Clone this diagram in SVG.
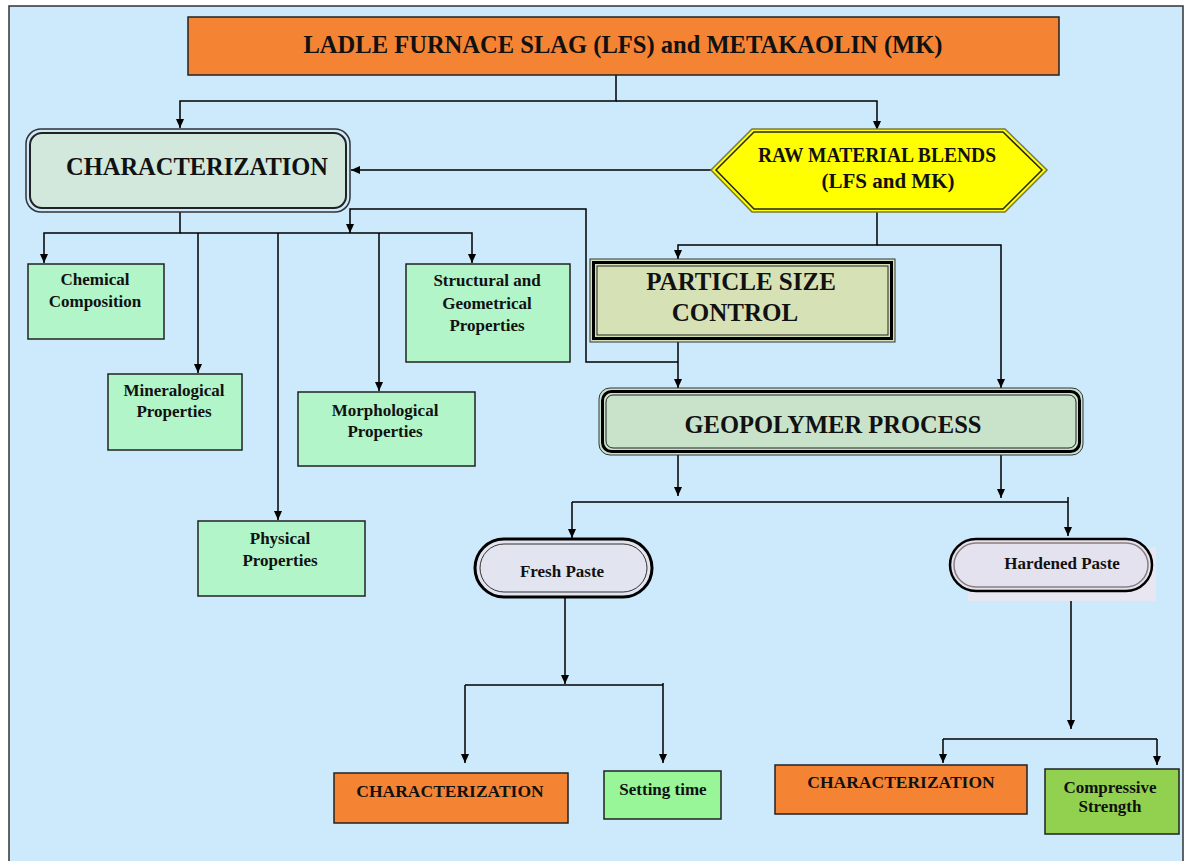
<svg xmlns="http://www.w3.org/2000/svg" width="1186" height="861" viewBox="0 0 1186 861">
<defs>
<marker id="ah" markerUnits="userSpaceOnUse" markerWidth="10" markerHeight="10" refX="9" refY="5" orient="auto"><path d="M0,1 L9,5 L0,9 Z" fill="#000"/></marker>
</defs>
<style>
.t{font-family:"Liberation Serif","Times New Roman",serif;font-weight:bold;fill:#111;text-anchor:middle}
.s{font-size:17px}
.c{fill:none;stroke:#000;stroke-width:1.5}
.a{marker-end:url(#ah)}
.g{fill:#b2f5c8;stroke:#222;stroke-width:1.5}
.o{fill:#f48434;stroke:#222;stroke-width:1.5}
</style>
<rect x="0" y="0" width="1186" height="861" fill="#ffffff"/>
<rect x="9" y="6" width="1174" height="860" fill="#cceafc" stroke="#333" stroke-width="1.5"/>

<g id="connectors">
<path class="c a" d="M616 75 V101 H180 V128"/>
<path class="c a" d="M616 101 H877 V130"/>
<path class="c a" d="M712 170 H351"/>
<path class="c a" d="M180 212 V233 H44 V263"/>
<path class="c a" d="M180 233 H472 V263"/>
<path class="c a" d="M198 233 V373"/>
<path class="c a" d="M278 233 V520"/>
<path class="c a" d="M379 233 V391"/>
<path class="c a" d="M678 362 H586 V209 H350 V233"/>
<path class="c a" d="M877 211 V245 H678 V259"/>
<path class="c a" d="M877 245 H1001 V388"/>
<path class="c a" d="M678 342 V388"/>
<path class="c a" d="M678 455 V496"/>
<path class="c a" d="M1001 455 V498"/>
<path class="c" d="M572 502 H1068"/>
<path class="c a" d="M572 502 V538"/>
<path class="c a" d="M1068 497 V536"/>
<path class="c a" d="M565 598 V684"/>
<path class="c" d="M465 685 H663"/>
<path class="c a" d="M465 685 V763"/>
<path class="c a" d="M663 683 V763"/>
<path class="c a" d="M1071 598 V729"/>
<path class="c" d="M943 739 H1157"/>
<path class="c a" d="M943 739 V763"/>
<path class="c a" d="M1157 739 V765"/>
</g>

<g id="n-top">
<rect x="188" y="17" width="871" height="58" fill="#f48434" stroke="#222" stroke-width="1.5"/>
<text class="t" x="623" y="53" font-size="25" textLength="639" lengthAdjust="spacingAndGlyphs">LADLE FURNACE SLAG (LFS) and METAKAOLIN (MK)</text>
</g>

<g id="n-char">
<rect x="26" y="129" width="324" height="83" rx="15" fill="none" stroke="#333" stroke-width="1.5"/>
<rect x="30" y="133" width="316" height="75" rx="12" fill="#d2e8dc" stroke="#222" stroke-width="2"/>
<text class="t" x="197" y="175" font-size="25" textLength="262" lengthAdjust="spacingAndGlyphs">CHARACTERIZATION</text>
</g>

<g id="n-raw">
<polygon points="711,170 752,129 1005,129 1047,170 1005,212 752,212" fill="#ffff00" stroke="#7a7a3a" stroke-width="1.5"/>
<polygon points="716,170 754,132 1003,132 1042,170 1003,209 754,209" fill="#ffff00" stroke="#222" stroke-width="1.5"/>
<text class="t" x="877" y="162" font-size="20" textLength="238" lengthAdjust="spacingAndGlyphs">RAW MATERIAL BLENDS</text>
<text class="t" x="888" y="188" font-size="20" textLength="133" lengthAdjust="spacingAndGlyphs">(LFS and MK)</text>
</g>

<g id="n-chem">
<rect class="g" x="28" y="264" width="136" height="75"/>
<text class="t s" x="95" y="285">Chemical</text>
<text class="t s" x="95" y="307">Composition</text>
</g>
<g id="n-mine">
<rect class="g" x="108" y="374" width="134" height="76"/>
<text class="t s" x="174" y="396">Mineralogical</text>
<text class="t s" x="174" y="417">Properties</text>
</g>
<g id="n-phys">
<rect class="g" x="198" y="521" width="167" height="75"/>
<text class="t s" x="280" y="544">Physical</text>
<text class="t s" x="280" y="566">Properties</text>
</g>
<g id="n-morph">
<rect class="g" x="298" y="392" width="177" height="74"/>
<text class="t s" x="385" y="416">Morphological</text>
<text class="t s" x="385" y="437">Properties</text>
</g>
<g id="n-struct">
<rect class="g" x="406" y="264" width="164" height="98"/>
<text class="t s" x="487" y="286">Structural and</text>
<text class="t s" x="487" y="309">Geometrical</text>
<text class="t s" x="487" y="331">Properties</text>
</g>

<g id="n-particle">
<rect x="590" y="259" width="305" height="83" fill="#d6e2b6" stroke="#333" stroke-width="1"/>
<rect x="593.5" y="262.5" width="298" height="76" fill="none" stroke="#000" stroke-width="3"/>
<rect x="597" y="266" width="291" height="69" fill="none" stroke="#222" stroke-width="1"/>
<text class="t" x="741" y="290" font-size="25">PARTICLE SIZE</text>
<text class="t" x="735" y="321" font-size="25">CONTROL</text>
</g>

<g id="n-geo">
<rect x="599" y="388" width="484" height="67" rx="11" fill="#c9e3cb" stroke="#333" stroke-width="1"/>
<rect x="602.5" y="391.5" width="477" height="60" rx="9" fill="none" stroke="#000" stroke-width="3"/>
<rect x="606" y="395" width="470" height="53" rx="7" fill="none" stroke="#222" stroke-width="1"/>
<text class="t" x="833" y="433" font-size="25" textLength="297" lengthAdjust="spacingAndGlyphs">GEOPOLYMER PROCESS</text>
</g>

<g id="n-fresh">
<rect x="475" y="539" width="177" height="58" rx="29" fill="#e2e4f0" stroke="#000" stroke-width="3"/>
<rect x="480" y="544" width="167" height="48" rx="24" fill="none" stroke="#333" stroke-width="1"/>
<text class="t" x="562" y="577" font-size="17">Fresh Paste</text>
</g>

<g id="n-hard">
<rect x="968" y="547" width="188" height="54" fill="#e8e6f0"/>
<rect x="950" y="539" width="202" height="52" rx="26" fill="#e4e2ee" stroke="#000" stroke-width="2.5"/>
<rect x="954" y="543" width="194" height="44" rx="22" fill="none" stroke="#8a7f80" stroke-width="1.5"/>
<text class="t" x="1062" y="569" font-size="17">Hardened Paste</text>
</g>

<g id="n-char2">
<rect class="o" x="334" y="773" width="234" height="50"/>
<text class="t" x="450" y="797" font-size="17.5">CHARACTERIZATION</text>
</g>
<g id="n-setting">
<rect x="604" y="771" width="117" height="48" fill="#98f598" stroke="#222" stroke-width="1.5"/>
<text class="t s" x="663" y="795">Setting time</text>
</g>
<g id="n-char3">
<rect class="o" x="775" y="765" width="252" height="49"/>
<text class="t" x="901" y="788" font-size="17.5">CHARACTERIZATION</text>
</g>
<g id="n-comp">
<rect x="1045" y="769" width="134" height="65" fill="#92d050" stroke="#222" stroke-width="1.5"/>
<text class="t s" x="1110" y="793">Compressive</text>
<text class="t s" x="1110" y="812">Strength</text>
</g>
</svg>
